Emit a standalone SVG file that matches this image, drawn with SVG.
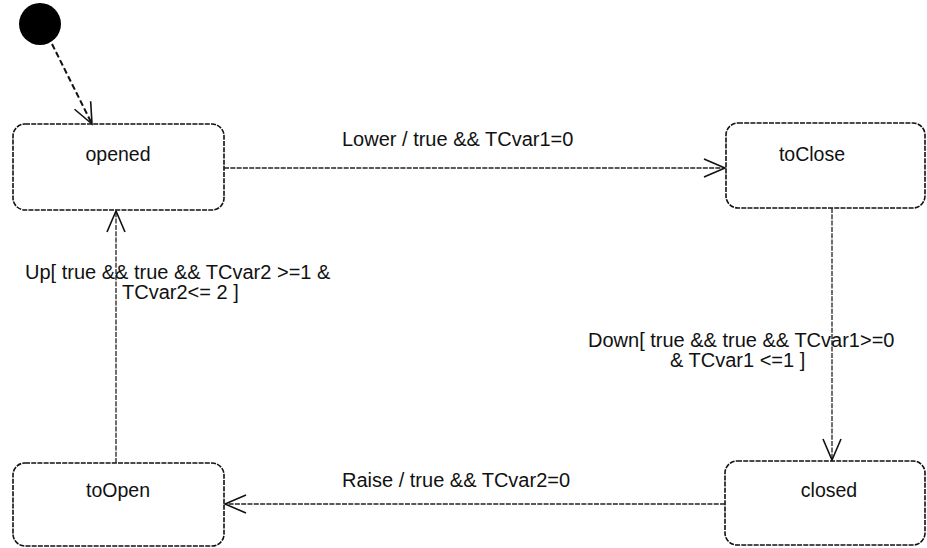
<svg xmlns="http://www.w3.org/2000/svg" width="927" height="548" viewBox="0 0 927 548">
<defs>
<style>
.box{fill:#fff;stroke:#111;stroke-width:1.6;stroke-dasharray:5 1.2}
.lbl{font-family:"Liberation Sans",Arial,sans-serif;font-size:20px;fill:#111}
.nm{font-family:"Liberation Sans",Arial,sans-serif;font-size:19.5px;fill:#111;text-anchor:middle}
.edge{fill:none;stroke:#222;stroke-width:1.3;stroke-dasharray:5 1.3}
</style>
<marker id="arr" markerUnits="userSpaceOnUse" markerWidth="26" markerHeight="22" viewBox="-24 -11 26 22" refX="0" refY="0" orient="auto">
<path d="M-21,-9 L0,0 L-21,9" fill="none" stroke="#111" stroke-width="1.6"/>
</marker>
</defs>
<rect width="927" height="548" fill="#fff"/>
<g id="initial">
<circle cx="40" cy="24" r="21" fill="#000"/>
</g>
<g id="opened">
<rect class="box" x="13" y="124" width="211" height="86" rx="12"/>
<text class="nm" x="118" y="161">opened</text>
</g>
<g id="toClose">
<rect class="box" x="726" y="123" width="199" height="85" rx="12"/>
<text class="nm" x="812" y="161">toClose</text>
</g>
<g id="closed">
<rect class="box" x="725" y="461" width="200" height="84" rx="12"/>
<text class="nm" x="829" y="497">closed</text>
</g>
<g id="toOpen">
<rect class="box" x="13" y="463" width="211" height="83" rx="12"/>
<text class="nm" x="118" y="497">toOpen</text>
</g>
<g id="connectors">
<path d="M52,44 L92,124" fill="none" stroke="#111" stroke-width="2" stroke-dasharray="6 3" marker-end="url(#arr)"/>
<path class="edge" d="M224,168 L725,168" marker-end="url(#arr)"/>
<path class="edge" d="M832,208 L832,460" marker-end="url(#arr)"/>
<path class="edge" d="M725,504 L225,504" marker-end="url(#arr)"/>
<path class="edge" d="M116,463 L116,211" marker-end="url(#arr)"/>
<text class="lbl" x="342" y="146">Lower / true &amp;&amp; TCvar1=0</text>
<text class="lbl" x="342" y="487">Raise / true &amp;&amp; TCvar2=0</text>
<text class="lbl" x="25" y="279">Up[ true &amp;&amp; true &amp;&amp; TCvar2 &gt;=1 &amp;</text>
<text class="lbl" x="122" y="299">TCvar2&lt;= 2 ]</text>
<text class="lbl" x="588" y="347">Down[ true &amp;&amp; true &amp;&amp; TCvar1&gt;=0</text>
<text class="lbl" x="670" y="367">&amp; TCvar1 &lt;=1 ]</text>
</g>
</svg>
